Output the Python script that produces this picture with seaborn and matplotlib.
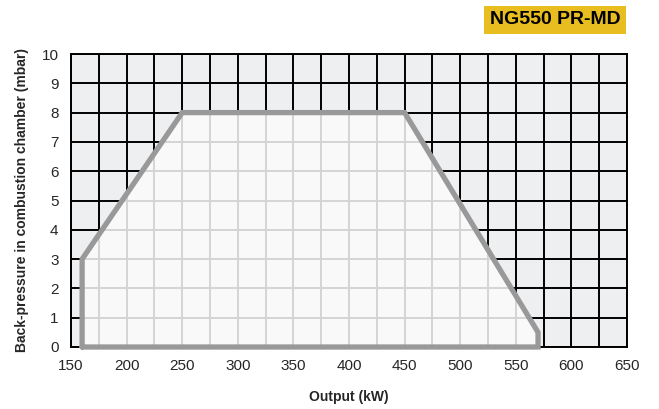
import matplotlib
matplotlib.use("Agg")
import matplotlib.pyplot as plt
import seaborn as sns
import pandas as pd
import numpy as np
from matplotlib.patches import Polygon

sns.set_style("white")
plt.rcParams['font.family'] = ['Liberation Sans', 'DejaVu Sans']

# data
output_kw = [160, 160, 250, 450, 570, 570, 160]
pressure_mbar = [0, 3, 8, 8, 0.5, 0, 0]
x_ticks = [150, 200, 250, 300, 350, 400, 450, 500, 550, 600, 650]
y_ticks = [0, 1, 2, 3, 4, 5, 6, 7, 8, 9, 10]
title = "NG550 PR-MD"

df = pd.DataFrame({"Output (kW)": output_kw, "Back-pressure": pressure_mbar})

fig = plt.figure(figsize=(6.59, 4.09), dpi=100)
ax = fig.add_axes([71/659, 1-347/409, (627-71)/659, (347-54)/409])
ax.set_facecolor("#eeeff1")
ax.set_xlim(150, 650)
ax.set_ylim(0, 10)

grid_x = np.arange(150, 651, 25)
grid_y = np.arange(0, 11, 1)
for gx in grid_x:
    ax.axvline(gx, color="black", lw=1.4, zorder=1)
for gy in grid_y:
    ax.axhline(gy, color="black", lw=1.4, zorder=1)

poly = Polygon(list(zip(output_kw, pressure_mbar)), closed=True,
               facecolor="#f9f9f9", edgecolor="none", zorder=2)
ax.add_patch(poly)
for gx in grid_x:
    l = ax.axvline(gx, color="#d4d4d4", lw=1.4, zorder=3)
    l.set_clip_path(poly)
for gy in grid_y:
    l = ax.axhline(gy, color="#d4d4d4", lw=1.4, zorder=3)
    l.set_clip_path(poly)

sns.lineplot(data=df, x="Output (kW)", y="Back-pressure", sort=False,
             color="#999999", lw=3.8, ax=ax, zorder=4, estimator=None)
for ln in ax.lines[-1:]:
    ln.set_solid_joinstyle("miter")
    ln.set_clip_on(False)

ax.set_xticks(x_ticks)
ax.set_yticks(y_ticks)
ax.tick_params(axis="both", direction="out", length=6, width=1.3, color="black",
               labelsize=11, pad=3)
ax.tick_params(axis="x", pad=3)
for s in ax.spines.values():
    s.set_visible(True)
    s.set_color("black")
    s.set_linewidth(1.4)
ax.set_xlabel("Output (kW)", fontsize=10, fontweight="bold", labelpad=12)
ax.set_ylabel("Back-pressure in combustion chamber (mbar)", fontsize=10,
              fontweight="bold", labelpad=9)

fig.text(555/659, 1-20/409, title, fontsize=14, fontweight="bold", ha="center",
         va="center", color="black",
         bbox=dict(boxstyle="square,pad=0.3", facecolor="#e8bd1f", edgecolor="none"))

fig.savefig("out.png", dpi=100)
